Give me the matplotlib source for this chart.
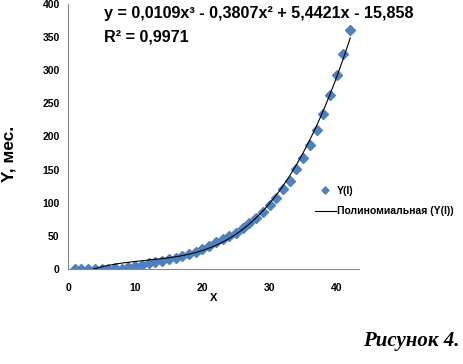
import numpy as np
import matplotlib
matplotlib.use('agg')
import matplotlib.pyplot as plt

plt.rcParams['font.family'] = ['Liberation Sans', 'DejaVu Sans']

# data
x_vals = list(range(1, 43))
y_vals = [0, 0, 0, 0, 0.5, 0.5, 1, 0.5, 3, 5,
          6.5, 8.5, 10, 12, 14.5, 17, 19.5, 22, 25, 30,
          35, 40, 45, 50, 55, 62, 70, 77, 86, 97,
          107, 120, 133, 151, 168, 187, 210, 234, 262, 293,
          325, 361]
poly_coef = [0.0109, -0.3807, 5.4421, -15.858]
x_ticks = [0, 10, 20, 30, 40]
y_ticks = [0, 50, 100, 150, 200, 250, 300, 350, 400]

fig = plt.figure(figsize=(4.64, 3.64), dpi=100)
ax = fig.add_axes([0.1466, 0.261, 0.627, 0.728])

xs = np.linspace(1, 42, 300)
ys = np.polyval(poly_coef, xs)

pts, = ax.plot(x_vals, y_vals, 'D', color='#4f81bd', markersize=4.8, label='Y(I)', zorder=2)
trend, = ax.plot(xs, ys, color='black', linewidth=0.8, label='Полиномиальная (Y(I))', zorder=3)

ax.set_xlim(0, 43.3)
ax.set_ylim(0, 400)
ax.set_xticks(x_ticks)
ax.set_yticks(y_ticks)
ax.tick_params(length=0, labelsize=7.5)
ax.tick_params(axis='x', pad=10)
ax.tick_params(axis='y', pad=6)
for lbl in ax.get_xticklabels() + ax.get_yticklabels():
    lbl.set_fontweight('bold')
for side in ['top', 'right']:
    ax.spines[side].set_visible(False)
for side in ['left', 'bottom']:
    ax.spines[side].set_color('#888888')
    ax.spines[side].set_linewidth(0.8)

ax.set_xlabel('X', fontsize=8, fontweight='bold', labelpad=0)
fig.text(0.019, 0.577, 'Y, мес.', rotation=90, fontsize=12.5, fontweight='bold',
         ha='center', va='center')

fig.text(0.224, 0.963, 'y = 0,0109x³ - 0,3807x² + 5,4421x - 15,858',
         fontsize=11.6, fontweight='bold', ha='left', va='center')
fig.text(0.224, 0.898, 'R² = 0,9971', fontsize=11.6, fontweight='bold',
         ha='left', va='center')

fig.legend(handles=[pts, trend], loc='upper left', bbox_to_anchor=(0.658, 0.515),
           frameon=False, handlelength=2.0, handletextpad=0.1, markerscale=0.75,
           labelspacing=1.0, prop={'weight': 'bold', 'size': 7.5})

fig.text(0.99, 0.035, 'Рисунок 4.', fontsize=15, fontweight='bold', fontstyle='italic',
         family='Liberation Serif', ha='right', va='bottom')

fig.savefig('out.png', dpi=100)
